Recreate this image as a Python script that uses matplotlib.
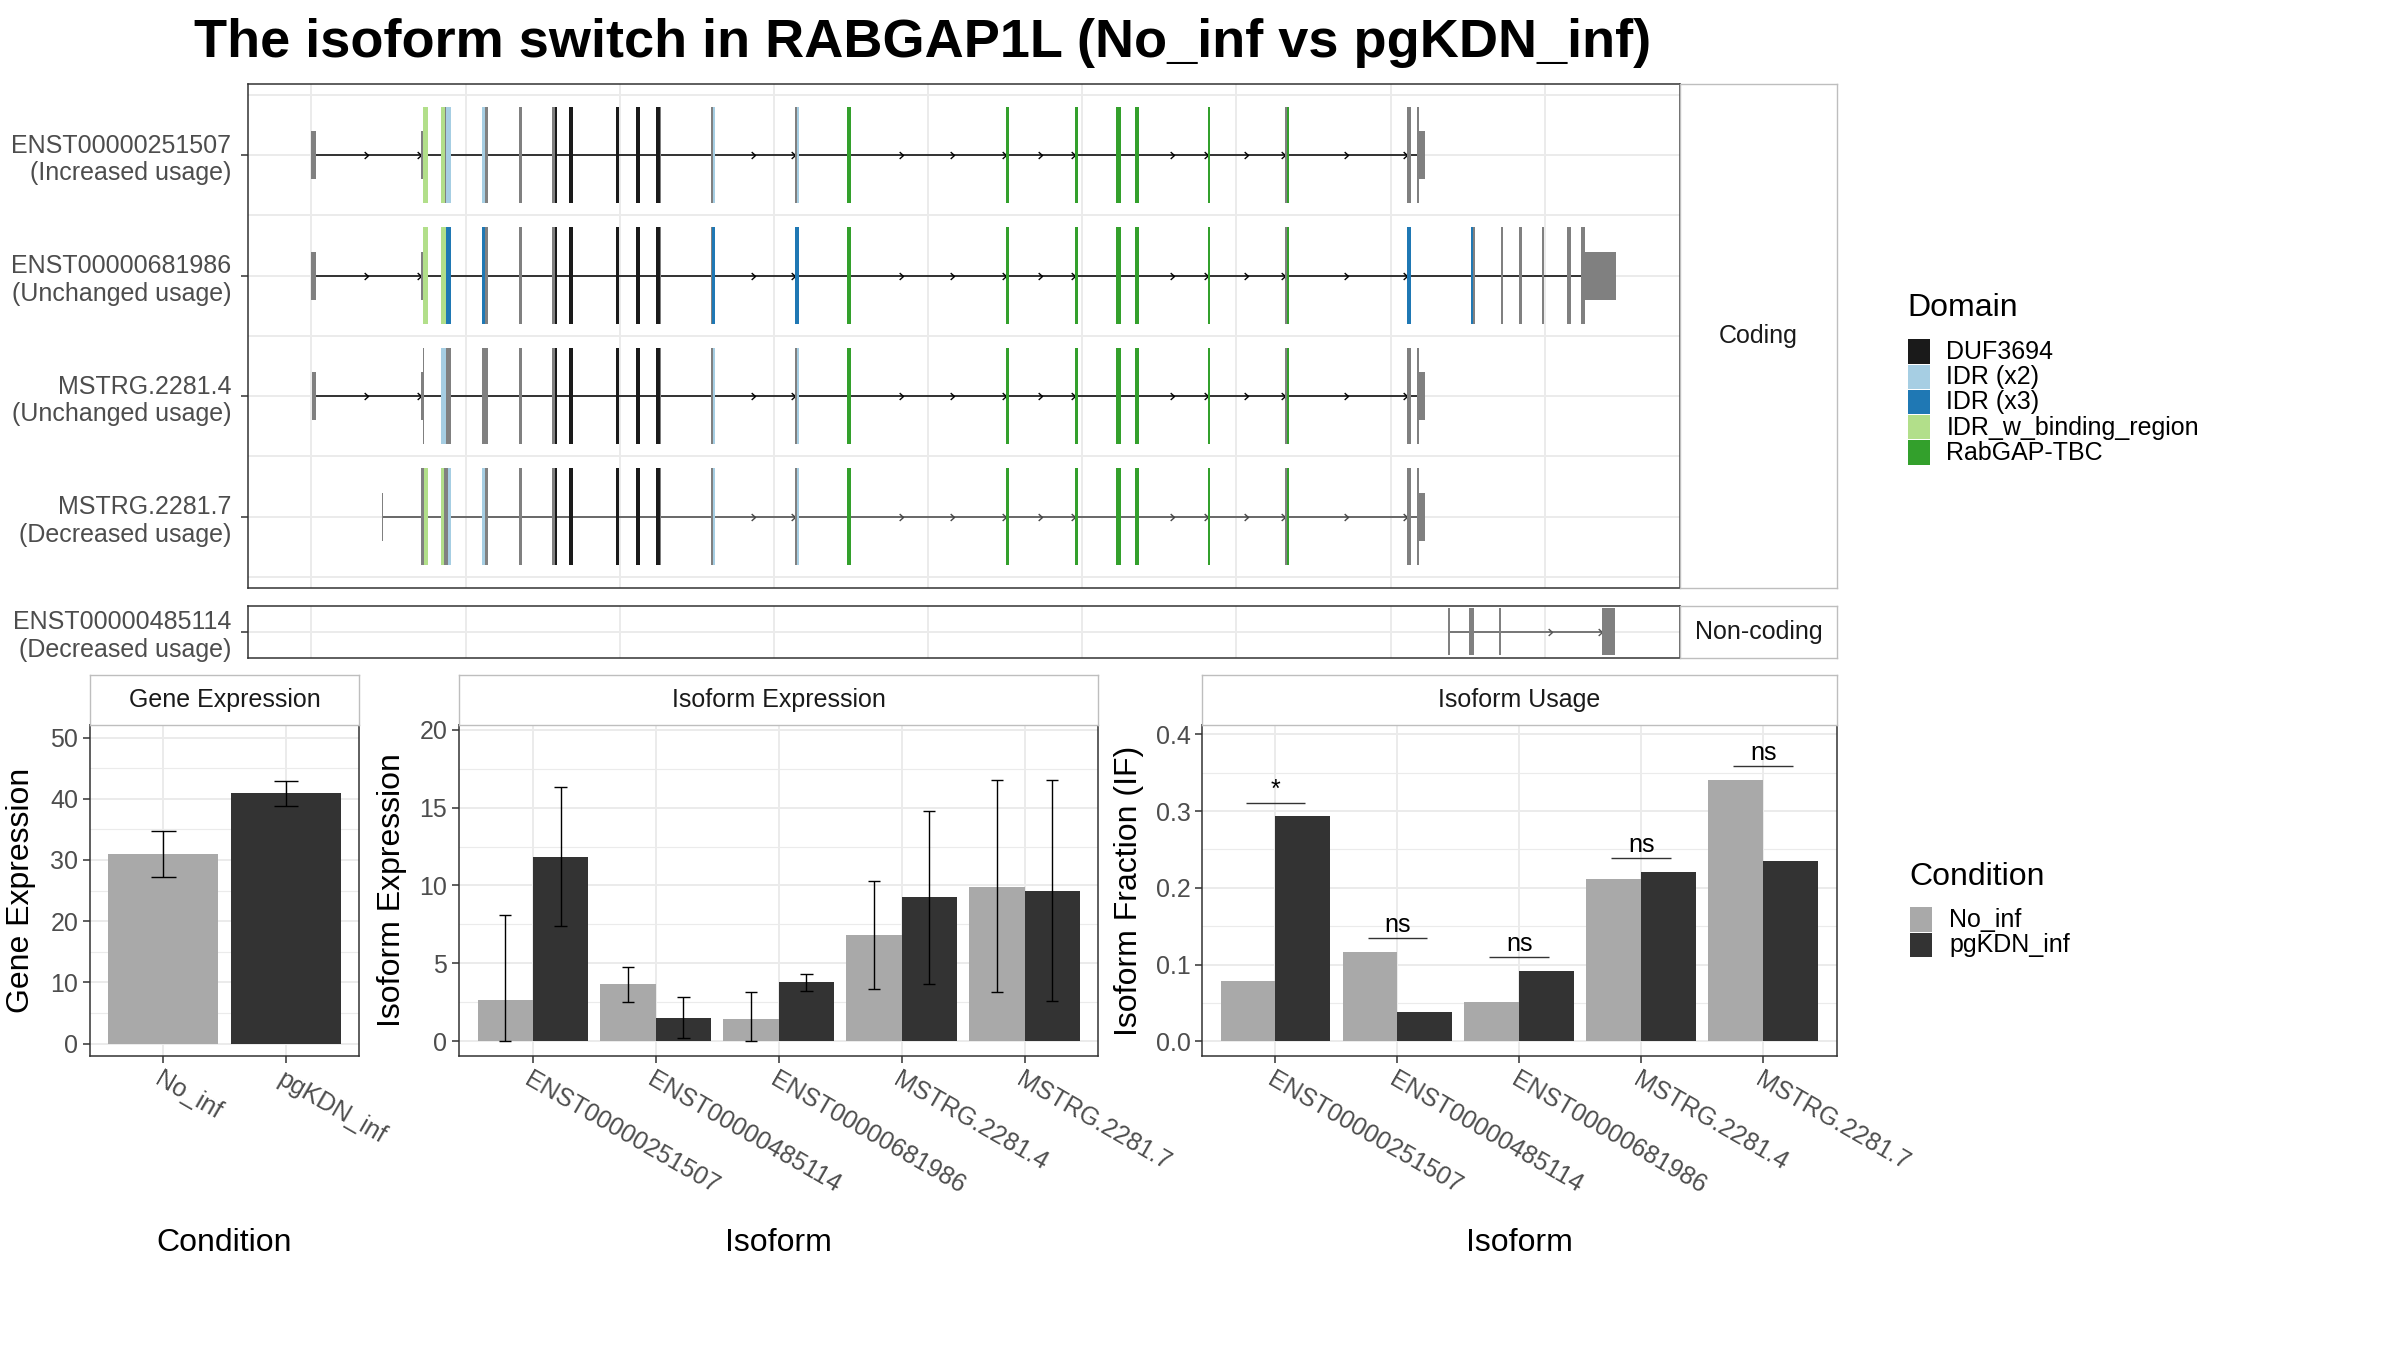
import math
import matplotlib
matplotlib.use("Agg")
import matplotlib.pyplot as plt
from matplotlib.path import Path

plt.rcParams['font.family'] = ['Liberation Sans', 'DejaVu Sans']

W, H = 2400, 1350
S = 0.9895  # layout scale (measured pixel positions -> output pixels)

# ---------------- data ----------------
title = "The isoform switch in RABGAP1L (No_inf vs pgKDN_inf)"

coding_ids = ["ENST00000251507", "ENST00000681986", "MSTRG.2281.4", "MSTRG.2281.7"]
coding_status = ["Increased usage", "Unchanged usage", "Unchanged usage", "Decreased usage"]
noncoding_ids = ["ENST00000485114"]
noncoding_status = ["Decreased usage"]

domain_names = ["DUF3694", "IDR (x2)", "IDR (x3)", "IDR_w_binding_region", "RabGAP-TBC"]
domain_colors = ["#1A1A1A", "#A6CEE3", "#1F78B4", "#B2DF8A", "#33A02C"]

# exon segments: (start, end, kind) on a relative genomic axis
core_a = [(339.1, 341.4, "CDS"), (360.6, 362.9, "CDS"), (362.9, 363.9, "DUF3694"),
          (372.0, 374.3, "DUF3694"), (402.3, 404.7, "DUF3694"), (415.7, 418.1, "DUF3694"),
          (428.6, 431.0, "DUF3694"), (431.0, 432.1, "CDS")]
core_b = [(553.4, 556.3, "RabGAP-TBC"), (657.5, 659.2, "RabGAP-TBC"), (702.6, 704.3, "RabGAP-TBC"),
          (729.5, 732.3, "RabGAP-TBC"), (741.8, 744.5, "RabGAP-TBC"), (789.3, 791.0, "RabGAP-TBC"),
          (839.8, 841.0, "CDS"), (841.0, 842.2, "RabGAP-TBC")]
idr2_mid = [(464.4, 465.9, "CDS"), (465.9, 467.3, "IDR (x2)"), (519.8, 521.0, "CDS"), (521.0, 522.2, "IDR (x2)")]
idr3_mid = [(464.4, 465.6, "CDS"), (465.6, 467.3, "IDR (x3)"), (519.8, 522.2, "IDR (x3)")]
tail_short = [(919.6, 922.4, "CDS"), (926.3, 927.6, "CDS"), (927.6, 931.3, "UTR")]
tail_long = [(919.8, 921.9, "IDR (x3)"), (961.2, 962.6, "IDR (x3)"), (962.6, 963.6, "CDS"),
             (980.6, 982.3, "CDS"), (993.0, 994.8, "CDS"), (1007.5, 1008.8, "CDS"),
             (1024.0, 1026.5, "CDS"), (1033.3, 1035.8, "CDS"), (1035.8, 1056.0, "UTR")]

head_251507 = [(203.5, 206.4, "UTR"), (274.9, 276.4, "UTR"), (276.4, 279.9, "IDR_w_binding_region"),
               (288.0, 291.0, "IDR_w_binding_region"), (291.0, 291.8, "CDS"), (291.8, 294.5, "IDR (x2)"),
               (315.2, 316.9, "IDR (x2)"), (316.9, 318.7, "CDS")]
head_681986 = [(203.5, 206.4, "UTR"), (274.9, 276.4, "UTR"), (276.4, 279.9, "IDR_w_binding_region"),
               (288.0, 291.5, "IDR_w_binding_region"), (291.5, 294.5, "IDR (x3)"),
               (315.2, 317.2, "IDR (x3)"), (317.2, 318.7, "CDS")]
head_2281_4 = [(204.2, 206.4, "UTR"), (274.9, 276.4, "UTR"), (276.4, 277.2, "CDS"),
               (288.0, 291.5, "IDR (x2)"), (291.5, 294.5, "CDS"), (315.2, 318.7, "CDS")]
head_2281_7 = [(249.4, 250.6, "UTR"), (274.9, 276.9, "CDS"), (276.9, 279.9, "IDR_w_binding_region"),
               (288.0, 290.2, "IDR_w_binding_region"), (290.2, 292.9, "CDS"), (292.9, 294.5, "IDR (x2)"),
               (315.2, 316.9, "IDR (x2)"), (316.9, 318.7, "CDS")]

coding_exons = [
    head_251507 + core_a + idr2_mid + core_b + tail_short,
    head_681986 + core_a + idr3_mid + core_b + tail_long,
    head_2281_4 + core_a + idr2_mid + core_b + tail_short,
    head_2281_7 + core_a + idr2_mid + core_b + tail_short,
]
noncoding_exons = [[(946.5, 947.7), (960.1, 963.1), (979.8, 981.0), (1046.9, 1055.5)]]

tx_breaks = [203.5, 304.25, 405.0, 505.75, 606.5, 707.25, 808.0, 908.75, 1009.5]
tx_xlim = (162.0, 1098.0)

conditions = ["No_inf", "pgKDN_inf"]
cond_colors = ["#A9A9A9", "#333333"]
gene_expr = [30.92, 40.87]
gene_lo = [27.27, 38.85]
gene_hi = [34.70, 42.95]

isoforms = ["ENST00000251507", "ENST00000485114", "ENST00000681986", "MSTRG.2281.4", "MSTRG.2281.7"]
iso_expr_no = [2.68, 3.65, 1.45, 6.80, 9.90]
iso_expr_pg = [11.83, 1.50, 3.80, 9.23, 9.65]
iso_no_lo = [0.0, 2.50, 0.0, 3.35, 3.15]
iso_no_hi = [8.08, 4.80, 3.15, 10.30, 16.80]
iso_pg_lo = [7.38, 0.20, 3.25, 3.65, 2.60]
iso_pg_hi = [16.35, 2.85, 4.30, 14.75, 16.80]
if_no = [0.078, 0.117, 0.051, 0.211, 0.341]
if_pg = [0.293, 0.0376, 0.092, 0.221, 0.235]
sig_labels = ["*", "ns", "ns", "ns", "ns"]

# ---------------- helpers ----------------
def frac(x0, y0, x1, y1):
    return [S * x0 / W, 1 - S * y1 / H, S * (x1 - x0) / W, S * (y1 - y0) / H]

def pt(x, y):
    return S * x / W, 1 - S * y / H

TICK_FS = 18
STRIP_FS = 18
AXT_FS = 23
GRID = "#EBEBEB"
BORDER = "#333333"
STRIP_EDGE = "#BEBEBE"
TICKTXT = "#4D4D4D"

fig = plt.figure(figsize=(24, 13.5), dpi=100)
fig.patch.set_facecolor("white")

def style_panel(ax):
    ax.set_facecolor("white")
    for s in ax.spines.values():
        s.set_color(BORDER)
        s.set_linewidth(1.1)
        s.set_zorder(5)
    ax.tick_params(which="major", colors=BORDER, labelcolor=TICKTXT, length=5, width=1.1,
                   labelsize=TICK_FS)
    ax.tick_params(which="minor", length=0)
    ax.set_axisbelow(True)

def add_strip(rect, text, rotation=0):
    s = fig.add_axes(frac(*rect))
    s.set_facecolor("white")
    s.set_xticks([]); s.set_yticks([])
    for sp in s.spines.values():
        sp.set_color(STRIP_EDGE)
        sp.set_linewidth(1.0)
    s.text(0.5, 0.5, text, transform=s.transAxes, ha="center", va="center",
           fontsize=STRIP_FS, color="#1A1A1A", rotation=rotation)
    s.set_zorder(0)
    return s

dom_col = dict(zip(domain_names, domain_colors))
chevron = Path([(-1.0, 0.9), (0.0, 0.0), (-1.0, -0.9)], [Path.MOVETO, Path.LINETO, Path.LINETO])

def merged_exons(segs):
    segs = sorted(segs)
    out = []
    for a, b, *_ in segs:
        if out and a - out[-1][1] < 0.05:
            out[-1][1] = max(out[-1][1], b)
        else:
            out.append([a, b])
    return out

def draw_introns(ax, exons, y, color):
    ex = merged_exons(exons)
    ax.plot([ex[0][0], ex[-1][1]], [y, y], color=color, lw=1.1, zorder=2, solid_capstyle="butt")
    xs = []
    for (a0, a1), (b0, b1) in zip(ex[:-1], ex[1:]):
        length = b0 - a1
        if length > 40:
            n = math.ceil(length / 40)
            xs += [a1 + length * k / n for k in range(1, n + 1)]
    ax.plot(xs, [y] * len(xs), ls="none", marker=chevron, ms=5.5, mew=1.0,
            mec=color, mfc="none", zorder=2)

# ---------------- title ----------------
fig.text(*pt(196, 43), title, ha="left", va="center", fontsize=39, fontweight="bold")

# ---------------- transcript panel (coding) ----------------
ax_tx = fig.add_axes(frac(250.5, 85, 1698, 594))
style_panel(ax_tx)
ax_tx.set_xlim(*tx_xlim)
ax_tx.set_ylim(4.59, 0.41)
ax_tx.set_xticks(tx_breaks)
ax_tx.tick_params(axis="x", length=0, labelbottom=False)
ax_tx.tick_params(axis="y", pad=7)
ax_tx.set_yticks(range(1, len(coding_ids) + 1))
ax_tx.set_yticklabels([f"{i}\n({s})" for i, s in zip(coding_ids, coding_status)],
                      linespacing=1.2)
ax_tx.set_yticks([0.5 + k for k in range(len(coding_ids) + 1)], minor=True)
ax_tx.grid(which="major", color=GRID, lw=1.4)
ax_tx.grid(which="minor", axis="y", color=GRID, lw=1.4)

for row, segs in enumerate(coding_exons, start=1):
    line_col = "#444444" if row == 4 else "black"
    draw_introns(ax_tx, segs, row, line_col)
    for a, b, kind in segs:
        h = 0.2 if kind == "UTR" else 0.4
        col = dom_col.get(kind, "#808080")
        ax_tx.bar(a, 2 * h, width=b - a, bottom=row - h, align="edge",
                  color=col, lw=0, zorder=3)

add_strip((1698, 85, 1856, 594), "Coding")

# ---------------- transcript panel (non-coding) ----------------
ax_nc = fig.add_axes(frac(250.5, 612, 1698, 665))
style_panel(ax_nc)
ax_nc.set_xlim(*tx_xlim)
ax_nc.set_ylim(1.222, 0.778)
ax_nc.set_xticks(tx_breaks)
ax_nc.tick_params(axis="x", length=0, labelbottom=False)
ax_nc.tick_params(axis="y", pad=7)
ax_nc.set_yticks([1])
ax_nc.set_yticklabels([f"{i}\n({s})" for i, s in zip(noncoding_ids, noncoding_status)],
                      linespacing=1.2)
ax_nc.grid(which="major", color=GRID, lw=1.4)
for row, segs in enumerate(noncoding_exons, start=1):
    draw_introns(ax_nc, segs, row, "#555555")
    for a, b in segs:
        ax_nc.bar(a, 0.4, width=b - a, bottom=row - 0.2, align="edge",
                  color="#808080", lw=0, zorder=3)
add_strip((1698, 612, 1856, 665), "Non-coding")

# ---------------- Gene expression ----------------
ax_g = fig.add_axes(frac(91, 733, 363, 1067))
style_panel(ax_g)
xg = list(range(1, len(conditions) + 1))
ax_g.bar(xg, gene_expr, width=0.9, color=cond_colors, zorder=3)
ax_g.vlines(xg, gene_lo, gene_hi, color="black", lw=1.0, zorder=4)
ax_g.hlines(gene_lo, [x - 0.1 for x in xg], [x + 0.1 for x in xg], color="black", lw=1.0, zorder=4)
ax_g.hlines(gene_hi, [x - 0.1 for x in xg], [x + 0.1 for x in xg], color="black", lw=1.0, zorder=4)
ax_g.set_xlim(0.4, 2.6)
ax_g.set_ylim(-2.0, 52.0)
ax_g.set_yticks([0, 10, 20, 30, 40, 50])
ax_g.set_yticks([5, 15, 25, 35, 45], minor=True)
ax_g.set_xticks(xg)
ax_g.set_xticklabels(conditions, rotation=-30, ha="left", va="top", rotation_mode="anchor")
ax_g.grid(which="major", color=GRID, lw=1.4)
ax_g.grid(which="minor", axis="y", color=GRID, lw=0.8)
add_strip((91, 682, 363, 733), "Gene Expression")

# ---------------- Isoform expression ----------------
ax_e = fig.add_axes(frac(464, 733, 1110, 1067))
style_panel(ax_e)
xi = list(range(1, len(isoforms) + 1))
xl = [x - 0.225 for x in xi]
xr = [x + 0.225 for x in xi]
ax_e.bar(xl, iso_expr_no, width=0.45, color=cond_colors[0], zorder=3)
ax_e.bar(xr, iso_expr_pg, width=0.45, color=cond_colors[1], zorder=3)
for xs, lo, hi in ((xl, iso_no_lo, iso_no_hi), (xr, iso_pg_lo, iso_pg_hi)):
    ax_e.vlines(xs, lo, hi, color="black", lw=1.0, zorder=4)
    ax_e.hlines(lo, [x - 0.05 for x in xs], [x + 0.05 for x in xs], color="black", lw=1.0, zorder=4)
    ax_e.hlines(hi, [x - 0.05 for x in xs], [x + 0.05 for x in xs], color="black", lw=1.0, zorder=4)
ax_e.set_xlim(0.4, 5.6)
ax_e.set_ylim(-0.93, 20.28)
ax_e.set_yticks([0, 5, 10, 15, 20])
ax_e.set_yticks([2.5, 7.5, 12.5, 17.5], minor=True)
ax_e.set_xticks(xi)
ax_e.set_xticklabels(isoforms, rotation=-30, ha="left", va="top", rotation_mode="anchor")
ax_e.grid(which="major", color=GRID, lw=1.4)
ax_e.grid(which="minor", axis="y", color=GRID, lw=0.8)
add_strip((464, 682, 1110, 733), "Isoform Expression")

# ---------------- Isoform usage ----------------
ax_u = fig.add_axes(frac(1215, 733, 1856, 1067))
style_panel(ax_u)
ax_u.bar(xl, if_no, width=0.45, color=cond_colors[0], zorder=3)
ax_u.bar(xr, if_pg, width=0.45, color=cond_colors[1], zorder=3)
sig_y = [max(a, b) + 0.0175 for a, b in zip(if_no, if_pg)]
ax_u.hlines(sig_y, [x - 0.245 for x in xi], [x + 0.245 for x in xi], color="#333333", lw=1.0, zorder=4)
for x, y, lab in zip(xi, sig_y, sig_labels):
    ax_u.text(x, y + 0.002, lab, ha="center", va="bottom", fontsize=18, color="black", zorder=5)
ax_u.set_xlim(0.4, 5.6)
ax_u.set_ylim(-0.0188, 0.4117)
ax_u.set_yticks([0.0, 0.1, 0.2, 0.3, 0.4])
ax_u.set_yticklabels(["0.0", "0.1", "0.2", "0.3", "0.4"])
ax_u.set_yticks([0.05, 0.15, 0.25, 0.35], minor=True)
ax_u.set_xticks(xi)
ax_u.set_xticklabels(isoforms, rotation=-30, ha="left", va="top", rotation_mode="anchor")
ax_u.grid(which="major", color=GRID, lw=1.4)
ax_u.grid(which="minor", axis="y", color=GRID, lw=0.8)
add_strip((1215, 682, 1856, 733), "Isoform Usage")

# ---------------- axis titles ----------------
for x, txt in ((21.6, "Gene Expression"), (396, "Isoform Expression"), (1141, "Isoform Fraction (IF)")):
    fig.text(*pt(x, 900), txt, rotation=90, ha="center", va="center", fontsize=AXT_FS)
for x, txt in ((227, "Condition"), (787, "Isoform"), (1535.6, "Isoform")):
    fig.text(*pt(x, 1256), txt, ha="center", va="center", fontsize=AXT_FS)

# ---------------- legends ----------------
def draw_legend(title_txt, labels, colors, x_key, y_title, y_key_top, x_lab, key_w=22, key_h=25.5):
    fig.text(*pt(x_key, y_title), title_txt, ha="left", va="center", fontsize=AXT_FS)
    for k, (lab, col) in enumerate(zip(labels, colors)):
        top = y_key_top + k * key_h
        x0, y0 = pt(x_key, top + key_h - 1)
        fig.patches.append(plt.Rectangle((x0, y0), S * key_w / W, S * (key_h - 1) / H,
                                         transform=fig.transFigure,
                                         facecolor=col, edgecolor="none"))
        fig.text(*pt(x_lab, top + key_h / 2), lab, ha="left", va="center", fontsize=18)

draw_legend("Domain", domain_names, domain_colors, 1928, 311, 343, 1967)
draw_legend("Condition", conditions, cond_colors, 1930, 886, 917, 1970)

fig.savefig("out.png", dpi=100, facecolor="white")
